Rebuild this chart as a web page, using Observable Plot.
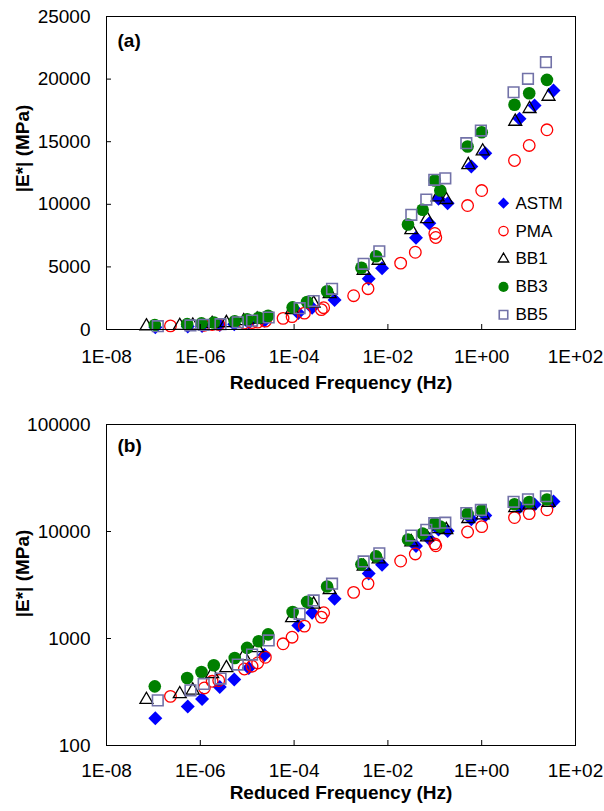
<!DOCTYPE html>
<html><head><meta charset="utf-8">
<script src="https://cdn.jsdelivr.net/npm/d3@7"></script>
<script src="https://cdn.jsdelivr.net/npm/@observablehq/plot@0.6"></script>
<style>
html,body{margin:0;padding:0;background:#fff;}
#chart{width:604px;height:811px;position:relative;}
#chart svg{display:block;}
</style></head><body><div id="chart"></div>
<script>
// ---- data (reduced frequency in Hz, |E*| in MPa) ----
const seriesNames = ["ASTM", "PMA", "BB1", "BB3", "BB5"];

const astmFreq = [34, 13.4, 6.4, 1.19, 0.60, 0.12, 0.188, 0.0764, 0.0397, 0.0075, 0.0039, 7.3e-4, 2.42e-4, 1.23e-4, 2.33e-5, 1.08e-5, 5.3e-6, 2.6e-6, 1.09e-6, 5.4e-7, 1.1e-7];
const astmE    = [19090, 17890, 16830, 14080, 13020, 10440, 10090, 8490, 7320, 4900, 4050, 2350, 1740, 1325, 700, 531, 413, 352, 272, 232, 180];

const pmaFreq = [24.6, 10.3, 5.0, 1.0, 0.5, 0.1, 0.105, 0.0384, 0.0187, 0.00377, 0.00186, 3.81e-4, 4.27e-4, 1.66e-4, 9.06e-5, 5.82e-5, 2.44e-5, 1.67e-5, 1.27e-5, 8.7e-6, 2.47e-6, 1.79e-6, 1.22e-6, 2.31e-7];
const pmaE    = [15950, 14700, 13500, 11100, 9900, 7670, 7350, 6170, 5300, 3260, 2700, 1585, 1740, 1306, 1028, 892, 668, 591, 551, 519, 405, 398, 345, 288];

const bb1Freq = [26.6, 10.5, 5.19, 1.05, 0.518, 0.115, 0.176, 0.0682, 0.0316, 0.00634, 0.00304, 5.73e-4, 2.61e-4, 9.06e-5, 1.63e-5, 8.43e-6, 3.6e-6, 1.79e-6, 6.9e-7, 3.65e-7, 7.1e-8];
const bb1E    = [18610, 17630, 16610, 14240, 13150, 10570, 10360, 8840, 7960, 5510, 4710, 2850, 2084, 1560, 817, 683, 531, 466, 328, 303, 268];

const bb3Freq = [24.6, 10.3, 5.0, 1.0, 0.5, 0.1, 0.131, 0.055, 0.0268, 0.00558, 0.00272, 5.05e-4, 1.89e-4, 9.3e-5, 2.79e-5, 1.76e-5, 9.95e-6, 5.42e-6, 1.94e-6, 1.06e-6, 5.25e-7, 1.07e-7];
const bb3E    = [19940, 18870, 17950, 15760, 14620, 11900, 11100, 9560, 8390, 5850, 4930, 3060, 2200, 1767, 1092, 944, 817, 658, 562, 486, 427, 357];

const bb5Freq = [23.4, 9.7, 4.78, 0.96, 0.47, 0.0975, 0.1675, 0.0659, 0.0316, 0.00656, 0.00304, 6.44e-4, 2.61e-4, 1.31e-4, 2.87e-5, 1.27e-5, 6.3e-6, 2.7e-6, 1.18e-6, 6.17e-7, 1.24e-7];
const bb5E    = [21350, 20020, 18950, 15890, 14880, 11960, 12080, 10380, 9160, 6250, 5250, 3250, 2270, 1700, 959, 708, 571, 422, 376, 328, 264];

const xTicks  = [1e-8, 1e-6, 1e-4, 1e-2, 1, 100];
const yTicksA = [0, 5000, 10000, 15000, 20000, 25000];
const yTicksB = [100, 1000, 10000, 100000];

// ---- styling ----
const FONT = "'Liberation Sans', Arial, Helvetica, sans-serif";
const styles = {
  ASTM: {symbol: "diamond2", r: 6.3, fill: "#0000ff", stroke: "none", strokeWidth: 0},
  PMA:  {symbol: "circle",   r: 5.8, fill: "none", stroke: "#ff0000", strokeWidth: 1.3},
  BB1:  {symbol: "triangle", r: 4.8, fill: "none", stroke: "#000000", strokeWidth: 1.3},
  BB3:  {symbol: "circle",   r: 6.3, fill: "#008000", stroke: "none", strokeWidth: 0},
  BB5:  {symbol: "square",   r: 6.0, fill: "none", stroke: "#7272a8", strokeWidth: 1.6}
};
const sources = {
  ASTM: [astmFreq, astmE], PMA: [pmaFreq, pmaE], BB1: [bb1Freq, bb1E], BB3: [bb3Freq, bb3E], BB5: [bb5Freq, bb5E]
};
const rows = seriesNames.flatMap(name => sources[name][0].map((f, i) => ({series: name, f, e: sources[name][1][i]})));

const fmtX = d => { const e = Math.round(Math.log10(d)); return "1E" + (e < 0 ? "-" : "+") + String(Math.abs(e)).padStart(2, "0"); };

function panel(opts) {
  const marks = [];
  for (const name of seriesNames) {
    const s = styles[name];
    marks.push(Plot.dot(rows.filter(d => d.series === name), {
      x: "f", y: "e", symbol: s.symbol, r: s.r, fill: s.fill, stroke: s.stroke, strokeWidth: s.strokeWidth
    }));
  }
  marks.push(Plot.frame({stroke: "#000", strokeWidth: 1}));
  marks.push(Plot.axisX({ticks: xTicks, tickSize: 5, dy: -5, tickFormat: () => "", label: null, stroke: "#000"}));
  marks.push(Plot.axisY({ticks: opts.yTicks, tickSize: 5, dx: 5, tickFormat: () => "", label: null, stroke: "#000"}));
  marks.push(Plot.axisX({ticks: xTicks, tickSize: 0, tickPadding: opts.xPad, tickFormat: fmtX, label: null, fontSize: 19, fill: "#000"}));
  marks.push(Plot.axisY({ticks: opts.yTicks, tickSize: 0, tickPadding: 16, tickFormat: d => String(d), label: null, fontSize: 19, fill: "#000"}));
  marks.push(Plot.text(["Reduced Frequency (Hz)"], {frameAnchor: "bottom", dy: opts.xTitleDy, text: d => d, textAnchor: "middle", fontWeight: "bold", fontSize: 19, lineAnchor: "middle", fill: "#000"}));
  marks.push(Plot.text(["|E*| (MPa)"], {frameAnchor: "left", rotate: -90, dx: -84, dy: opts.yTitleDy, text: d => d, textAnchor: "middle", fontWeight: "bold", fontSize: 19, lineAnchor: "middle", fill: "#000"}));
  marks.push(Plot.text([opts.tag], {frameAnchor: "top-left", dx: 11, dy: opts.tagDy, text: d => d, textAnchor: "start", fontWeight: "bold", fontSize: 19, lineAnchor: "middle", fill: "#000"}));
  if (opts.legend) {
    seriesNames.forEach((name, i) => {
      const s = styles[name];
      const dy = 186.7 + i * 27.9;
      marks.push(Plot.dot([name], {frameAnchor: "top-left", dx: 397, dy, symbol: s.symbol, r: s.r * 0.8, fill: s.fill, stroke: s.stroke, strokeWidth: s.strokeWidth}));
      marks.push(Plot.text([name], {frameAnchor: "top-left", dx: 409, dy, text: d => d, textAnchor: "start", lineAnchor: "middle", fontSize: 17, fill: "#000"}));
    });
  }
  return Plot.plot({
    width: 604, height: opts.height,
    marginLeft: 106, marginRight: 29, marginTop: opts.mt, marginBottom: opts.mb,
    style: {fontFamily: FONT, fontSize: "19px", color: "#000", background: "#fff", overflow: "visible"},
    x: {type: "log", domain: [1e-8, 100]},
    y: opts.y,
    marks
  });
}

const chart = document.getElementById("chart");
chart.append(panel({
  height: 400, mt: 16, mb: 71, y: {type: "linear", domain: [0, 25000]}, yTicks: yTicksA,
  xPad: 20, xTitleDy: 53, yTitleDy: -24.5, tag: "(a)", tagDy: 24, legend: true
}));
chart.append(panel({
  height: 411, mt: 24, mb: 66, y: {type: "log", domain: [100, 100000]}, yTicks: yTicksB,
  xPad: 18, xTitleDy: 47, yTitleDy: -11.5, tag: "(b)", tagDy: 21, legend: false
}));
</script></body></html>
